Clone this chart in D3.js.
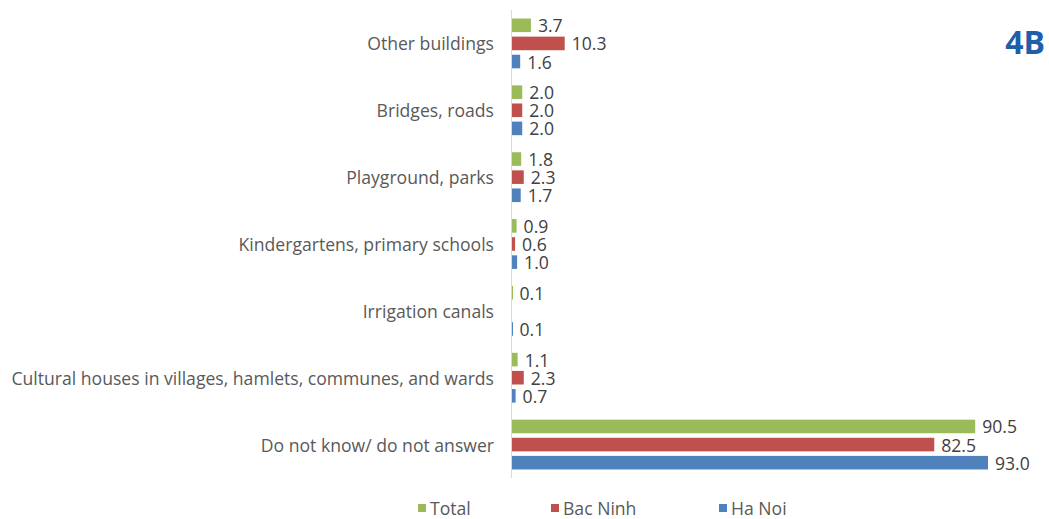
<!DOCTYPE html>
<html>
<head>
<meta charset="utf-8">
<script src="https://cdn.jsdelivr.net/npm/d3@7"></script>
<style>
  html, body { margin: 0; padding: 0; background: #fff; }
  svg { display: block; font-family: "Open Sans", "Noto Sans", sans-serif; }
</style>
</head>
<body>
<svg id="chart" width="1049" height="519"></svg>
<script>
// Categories, top to bottom
const categories = [
  "Other buildings",
  "Bridges, roads",
  "Playground, parks",
  "Kindergartens, primary schools",
  "Irrigation canals",
  "Cultural houses in villages, hamlets, communes, and wards",
  "Do not know/ do not answer"
];
const seriesNames = ["Total", "Bac Ninh", "Ha Noi"];
const totalValues   = [3.7, 2.0, 1.8, 0.9, 0.1, 1.1, 90.5];
const bacNinhValues = [10.3, 2.0, 2.3, 0.6, null, 2.3, 82.5];
const haNoiValues   = [1.6, 2.0, 1.7, 1.0, 0.1, 0.7, 93.0];
const colors = ["#9bbb59", "#c0504d", "#4f81bd"];

const series = [totalValues, bacNinhValues, haNoiValues];

const svg = d3.select("#chart");

const x = d3.scaleLinear().domain([0, 93]).range([512, 988]);

const y = d3.scaleBand()
  .domain(categories)
  .range([10, 478])
  .paddingInner(0.19)
  .paddingOuter(0.095);

const ySub = d3.scaleBand()
  .domain(seriesNames)
  .range([0, y.bandwidth()])
  .padding(0.25)
  .paddingOuter(0.12);

const color = d3.scaleOrdinal().domain(seriesNames).range(colors);

// Vertical axis line
svg.append("line")
  .attr("x1", 511.5).attr("x2", 511.5)
  .attr("y1", 10).attr("y2", 478)
  .attr("stroke", "#d9d9d9").attr("stroke-width", 1);

// Category labels
svg.append("g")
  .selectAll("text")
  .data(categories)
  .join("text")
  .attr("x", 494)
  .attr("y", d => y(d) + y.bandwidth() / 2)
  .attr("text-anchor", "end")
  .attr("dominant-baseline", "central")
  .attr("font-size", 17.6)
  .attr("fill", "#595959")
  .text(d => d);

// Bars and value labels
const rows = [];
categories.forEach((c, i) => {
  seriesNames.forEach((s, j) => {
    const v = series[j][i];
    if (v !== null) rows.push({ category: c, series: s, value: v });
  });
});

const g = svg.append("g");
g.selectAll("rect")
  .data(rows)
  .join("rect")
  .attr("x", x(0))
  .attr("y", d => y(d.category) + ySub(d.series))
  .attr("width", d => Math.max(1, x(d.value) - x(0)))
  .attr("height", ySub.bandwidth())
  .attr("fill", d => color(d.series));

g.selectAll("text")
  .data(rows)
  .join("text")
  .attr("x", d => x(d.value) + 7)
  .attr("y", d => y(d.category) + ySub(d.series) + ySub.bandwidth() / 2)
  .attr("dominant-baseline", "central")
  .attr("font-size", 17.6)
  .attr("fill", "#404040")
  .text(d => d.value.toFixed(1));

// Legend
const legendX = [418, 551, 719];
const legend = svg.append("g")
  .selectAll("g")
  .data(seriesNames)
  .join("g")
  .attr("transform", (d, i) => `translate(${legendX[i]},508)`);
legend.append("rect")
  .attr("x", 0).attr("y", -4)
  .attr("width", 8).attr("height", 8)
  .attr("fill", d => color(d));
legend.append("text")
  .attr("x", 12).attr("y", 0)
  .attr("dominant-baseline", "central")
  .attr("font-size", 17.6)
  .attr("fill", "#595959")
  .text(d => d);

// Panel tag
svg.append("text")
  .attr("x", 1045).attr("y", 41)
  .attr("text-anchor", "end")
  .attr("dominant-baseline", "central")
  .attr("font-size", 32)
  .attr("font-weight", "bold")
  .attr("fill", "#1f5fa8")
  .text("4B");
</script>
</body>
</html>
